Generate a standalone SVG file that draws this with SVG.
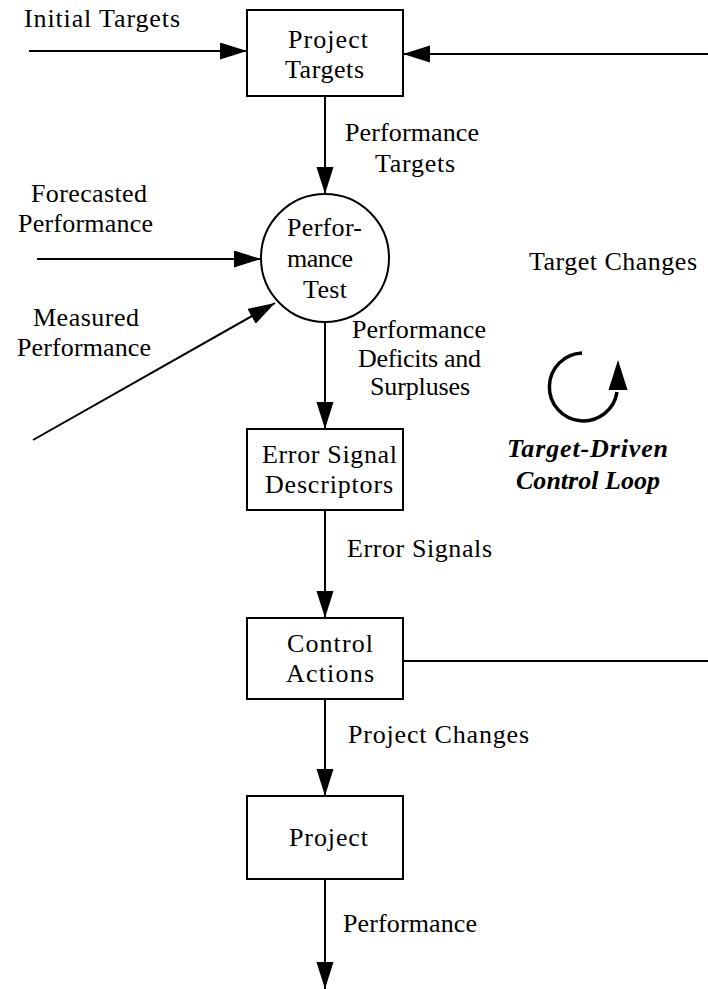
<svg xmlns="http://www.w3.org/2000/svg" width="708" height="989" viewBox="0 0 708 989">
  <style>
    .box { fill: #fff; stroke: #000; stroke-width: 2; }
    .wire { fill: none; stroke: #000; stroke-width: 2; }
    .t { font-family: "Liberation Serif", "Times New Roman", Tinos, serif; font-size: 26px; fill: #000; }
    .c { text-anchor: middle; }
    .bi { font-weight: bold; font-style: italic; }
  </style>
  <defs>
    <marker id="head" markerUnits="userSpaceOnUse" markerWidth="28" markerHeight="18" refX="27" refY="8.5" orient="auto">
      <path d="M0,0 L27,8.5 L0,17 z" fill="#000"/>
    </marker>
  </defs>

  <rect width="708" height="989" fill="#fff"/>

  <!-- connectors and their labels -->
  <g id="connectors">
    <line class="wire" x1="29" y1="51" x2="247" y2="51" marker-end="url(#head)"/>
    <line class="wire" x1="708" y1="54" x2="403" y2="54" marker-end="url(#head)"/>
    <line class="wire" x1="325" y1="96" x2="325" y2="194" marker-end="url(#head)"/>
    <line class="wire" x1="37" y1="259" x2="261" y2="259" marker-end="url(#head)"/>
    <line class="wire" x1="33" y1="440" x2="275" y2="303" marker-end="url(#head)"/>
    <line class="wire" x1="325" y1="322" x2="325" y2="429" marker-end="url(#head)"/>
    <line class="wire" x1="325" y1="510" x2="325" y2="618" marker-end="url(#head)"/>
    <line class="wire" x1="325" y1="699" x2="325" y2="796" marker-end="url(#head)"/>
    <line class="wire" x1="325" y1="879" x2="325" y2="989" marker-end="url(#head)"/>
    <line class="wire" x1="403" y1="661" x2="708" y2="661"/>

    <text class="t" x="24" y="27" textLength="156" lengthAdjust="spacing">Initial Targets</text>
    <text class="t" x="345" y="141" textLength="134" lengthAdjust="spacing">Performance</text>
    <text class="t" x="375" y="172" textLength="80" lengthAdjust="spacing">Targets</text>
    <text class="t" x="31" y="202" textLength="116" lengthAdjust="spacing">Forecasted</text>
    <text class="t" x="18" y="232" textLength="135" lengthAdjust="spacing">Performance</text>
    <text class="t" x="33" y="326" textLength="106" lengthAdjust="spacing">Measured</text>
    <text class="t" x="17" y="356" textLength="134" lengthAdjust="spacing">Performance</text>
    <text class="t" x="352" y="338" textLength="134" lengthAdjust="spacing">Performance</text>
    <text class="t" x="358" y="367" textLength="123" lengthAdjust="spacing">Deficits and</text>
    <text class="t" x="370" y="395" textLength="100" lengthAdjust="spacing">Surpluses</text>
    <text class="t" x="347" y="557" textLength="145" lengthAdjust="spacing">Error Signals</text>
    <text class="t" x="348" y="743" textLength="181" lengthAdjust="spacing">Project Changes</text>
    <text class="t" x="343" y="932" textLength="134" lengthAdjust="spacing">Performance</text>
    <text class="t" x="529" y="270" textLength="168" lengthAdjust="spacing">Target Changes</text>
  </g>

  <!-- nodes -->
  <g id="project-targets">
    <rect class="box" x="247" y="10" width="156" height="86"/>
    <text class="t" x="288" y="48" textLength="80" lengthAdjust="spacing">Project</text>
    <text class="t" x="285" y="78" textLength="79" lengthAdjust="spacing">Targets</text>
  </g>

  <g id="performance-test">
    <circle class="box" cx="325" cy="258" r="64"/>
    <text class="t" x="287" y="236" textLength="75" lengthAdjust="spacing">Perfor-</text>
    <text class="t" x="287" y="267" textLength="66" lengthAdjust="spacing">mance</text>
    <text class="t" x="303" y="298" textLength="44" lengthAdjust="spacing">Test</text>
  </g>

  <g id="error-signal-descriptors">
    <rect class="box" x="247" y="429" width="156" height="81"/>
    <text class="t" x="262" y="463" textLength="135" lengthAdjust="spacing">Error Signal</text>
    <text class="t" x="265" y="493" textLength="128" lengthAdjust="spacing">Descriptors</text>
  </g>

  <g id="control-actions">
    <rect class="box" x="247" y="618" width="156" height="81"/>
    <text class="t" x="287" y="652" textLength="86" lengthAdjust="spacing">Control</text>
    <text class="t" x="286" y="682" textLength="88" lengthAdjust="spacing">Actions</text>
  </g>

  <g id="project">
    <rect class="box" x="247" y="796" width="156" height="83"/>
    <text class="t" x="289" y="846" textLength="79" lengthAdjust="spacing">Project</text>
  </g>

  <!-- loop legend: curved arrow and caption -->
  <g id="loop-legend">
    <path d="M582,353 A34,34 0 1 0 617,392" fill="none" stroke="#000" stroke-width="3.5"/>
    <path d="M618,360 L627.5,390 L608.5,390 z" fill="#000"/>
    <text class="t bi" x="507" y="457" textLength="161" lengthAdjust="spacing">Target-Driven</text>
    <text class="t bi" x="516" y="489" textLength="144" lengthAdjust="spacing">Control Loop</text>
  </g>
</svg>
